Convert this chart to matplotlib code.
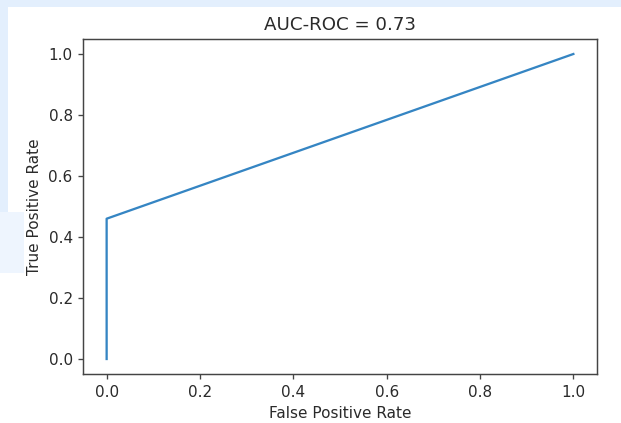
import matplotlib
matplotlib.use("Agg")
import matplotlib.pyplot as plt
from matplotlib.patches import Rectangle

# ROC curve data
fpr = [0.0, 0.0, 1.0]
tpr = [0.0, 0.46, 1.0]
auc_value = 0.73
x_ticks = [0.0, 0.2, 0.4, 0.6, 0.8, 1.0]
y_ticks = [0.0, 0.2, 0.4, 0.6, 0.8, 1.0]

W, H = 621, 423
fig = plt.figure(figsize=(W / 100, H / 100), dpi=100)
fig.patch.set_facecolor("white")

# screenshot background artifacts (light blue bands)
def band(x0, y0, x1, y1, color):
    fig.patches.append(Rectangle((x0 / W, 1 - y1 / H), (x1 - x0) / W, (y1 - y0) / H,
                                 transform=fig.transFigure, facecolor=color,
                                 edgecolor="none", zorder=-10))

band(0, 0, W, 7, "#e3effd")
band(0, 0, 8, 212, "#e3effd")
band(0, 212, 24, 273, "#eef5fe")

k = 1.094  # scale of the original rendering
ax = fig.add_axes([83.3 / W, 1 - 374.25 / H, (596.7 - 83.3) / W, (374.25 - 38.75) / H])
ax.plot(fpr, tpr, color="#3585c3", linewidth=1.5 * k)
ax.set_xlim(-0.05, 1.05)
ax.set_ylim(-0.05, 1.05)
ax.set_xticks(x_ticks)
ax.set_yticks(y_ticks)
ax.set_xticklabels([f"{v:.1f}" for v in x_ticks])
ax.set_yticklabels([f"{v:.1f}" for v in y_ticks])

text_color = "#2a2a2a"
ax.tick_params(labelsize=10 * k, colors="#444444", labelcolor=text_color,
               length=3.5 * k, width=0.8 * k * 1.1, pad=3.5 * k)
for s in ax.spines.values():
    s.set_color("#444444")
    s.set_linewidth(0.8 * k * 1.2)

ax.set_xlabel("False Positive Rate", fontsize=10 * k, color=text_color, labelpad=4 * k)
ax.set_ylabel("True Positive Rate", fontsize=10 * k, color=text_color, labelpad=4 * k)
ax.set_title(f"AUC-ROC = {auc_value}", fontsize=12 * k, color=text_color, pad=6)

fig.savefig("out.png", dpi=100)
